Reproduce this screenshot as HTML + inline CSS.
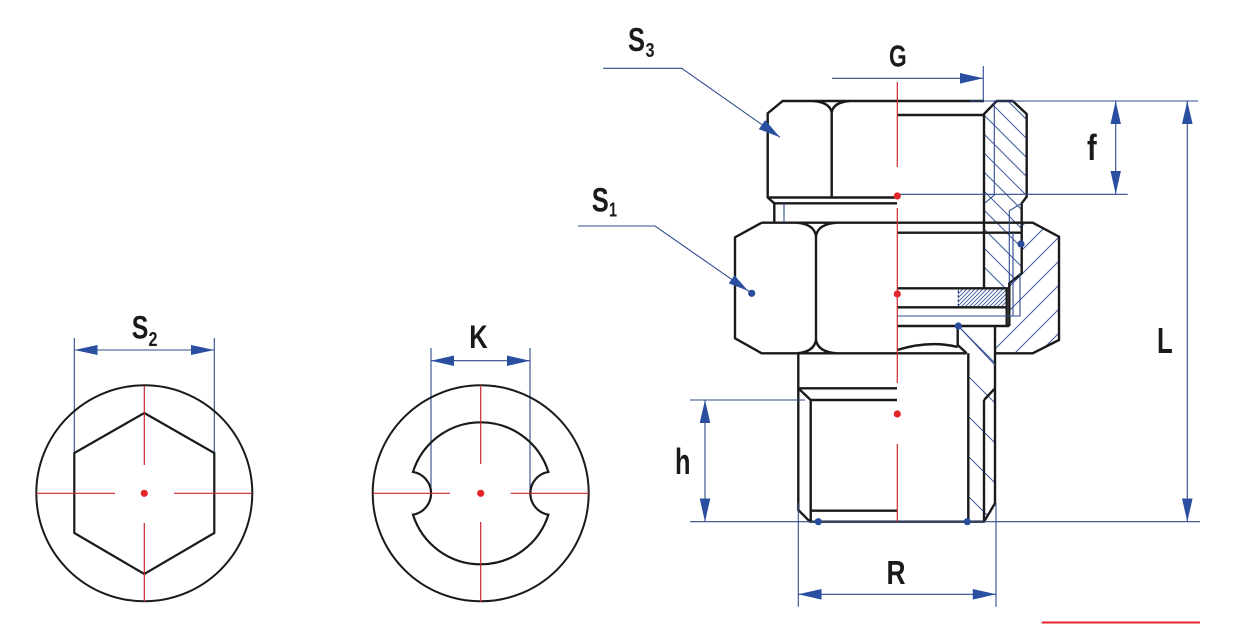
<!DOCTYPE html>
<html><head><meta charset="utf-8"><style>
html,body{margin:0;padding:0;background:#fff;}
svg{display:block;}
text{font-family:"Liberation Sans",sans-serif;font-weight:bold;fill:#1a1a1a;}
</style></head><body>
<svg width="1236" height="625" viewBox="0 0 1236 625" xmlns="http://www.w3.org/2000/svg">
<defs>
 <pattern id="hA" patternUnits="userSpaceOnUse" width="19" height="19" x="0" y="5">
   <path d="M-2,-2 L21,21 M-2,17 L2,21 M17,-2 L21,2" stroke="#3d5a9e" stroke-width="1"/>
 </pattern>
 <pattern id="hB" patternUnits="userSpaceOnUse" width="24" height="24">
   <path d="M-2,26 L26,-2 M-2,2 L2,-2 M22,26 L26,22" stroke="#3d5a9e" stroke-width="1"/>
 </pattern>
 <pattern id="hC" patternUnits="userSpaceOnUse" width="40" height="40" x="0" y="8">
   <path d="M-2,-2 L42,42 M-2,38 L2,42 M38,-2 L42,2" stroke="#3d5a9e" stroke-width="1"/>
 </pattern>
 <pattern id="hG" patternUnits="userSpaceOnUse" width="4" height="4">
   <path d="M-1,5 L5,-1 M-1,1 L1,-1 M3,5 L5,3" stroke="#3d5a9e" stroke-width="0.9"/>
 </pattern>
</defs>

<!-- hatched regions -->
<polygon points="984,114 996.7,101 1012.7,101 1026.7,114 1026.7,196.7 1021.7,203.3 1021.7,273.3 1009.3,283.3 1009.3,288.3 984,288.3" fill="url(#hA)"/>
<polygon points="1021.7,222.7 1032.7,222.7 1059,236.7 1059,340 1032.7,353.3 995,353.3 995,326 1009.3,326 1009.3,283.3 1021.7,273.3" fill="url(#hB)"/>
<polygon points="958.3,326 995,326 995,503.3 984,521.7 968.3,521.7 968.3,353.3 966.7,353.3 957.7,345" fill="url(#hC)"/>
<rect x="958.3" y="288.3" width="48.7" height="19" fill="url(#hG)" stroke="#2a3f7a" stroke-width="1.2" stroke-dasharray="3,1.5"/>

<!-- black outlines main drawing -->
<path d="
M984,101 L782.7,101 L767.7,113.3 L767.7,197.5 L774.3,203.3 L774.3,222.7
M767.7,197.5 L897,197.5
M774.3,203.3 L897,203.3
M831.7,112 L831.7,197.5
M813,101 Q829,102 831.7,112 Q834,102 850,101
M897,115 L984,115
M984,288.3 L984,114 L996.7,101 L1012.7,101 L1026.7,114 L1026.7,196.7 L1021.7,203.3 L1021.7,273.3 L1009.3,283.3 L1009.3,326
M761.7,222.7 L1032.7,222.7 L1059,236.7 L1059,340 L1032.7,353.3 L995,353.3
M966.7,353.3 L761.7,353.3 L735,338.3 L735,237.3 L761.7,222.7
M816,236 L816,340
M796.7,222.7 Q814,224 816,236 Q818,224 836.7,222.7
M796.7,353.3 Q814,352 816,340 Q818,352 836.7,353.3
M897,232.7 L1021.7,232.7
M897,288.3 L1009.3,288.3
M897,307.3 L1007,307.3
M897,326 L1009.3,326
M1006.7,288.3 L1006.7,326
M957.7,326 L957.7,345 L966.7,353.3
M897,350 Q930,340 957.7,347
M798.3,353.3 L798.3,510 L810,521.7 L984,521.7 L995,503.3 L995,326
M810.7,400 L810.7,521.7
M798.3,388.3 L810.7,400
M798.3,388.3 L897,388.3
M810.7,400 L897,400
M810.7,510.7 L897,510.7
M968.3,353.3 L968.3,521.7
M984,400 L984,521.7
M995,388.3 L984,400
" fill="none" stroke="#1a1a1a" stroke-width="2.4" stroke-linejoin="miter"/>

<!-- thin blue construction / dimension lines -->
<path d="
M784,203.3 L784,222.7
M994.3,101 L994.3,195 L985,203
M1009.3,210.7 L1021.7,203.3 M1009.3,210.7 L1009.3,283
M1013,232.7 L1013,316 M897,316 L1020,316 L1020,273
M958.3,326 L995,365
M603,68.3 L681.7,68.3 L780,137.3
M578,226 L655,226 L751.7,293.3
M832,78.3 L983.3,78.3 M983.3,66 L983.3,101
M970,101 L1198,101
M897,194.3 L1127.7,194.3
M1115.7,101 L1115.7,194.3
M1187.3,101 L1187.3,521.7
M690,521.7 L1200,521.7
M690,400 L805,400
M705,400 L705,521.7
M798.3,503 L798.3,606.7 M996,503 L996,606.7 M798.3,594.3 L996,594.3
M74.3,338 L74.3,453 M214.3,338 L214.3,453 M74.3,350 L214.3,350
M431,348 L431,493.3 M530,348 L530,493.3 M431,360.7 L530,360.7
" fill="none" stroke="#2f4b8c" stroke-width="1.1"/>

<!-- arrowheads -->
<g fill="#2a4fa0">
<polygon points="983.3,78.3 960,73 960,83.6"/>
<polygon points="1115.7,101 1110.5,124 1120.9,124"/>
<polygon points="1115.7,194.3 1110.5,171 1120.9,171"/>
<polygon points="1187.3,101 1182,124 1192.6,124"/>
<polygon points="1187.3,521.7 1182,498.5 1192.6,498.5"/>
<polygon points="705,400 699.7,423 710.3,423"/>
<polygon points="705,521.7 699.7,498.5 710.3,498.5"/>
<polygon points="798.3,594.3 821.5,589 821.5,599.6"/>
<polygon points="996,594.3 972.8,589 972.8,599.6"/>
<polygon points="74.3,350 97.5,345 97.5,355"/>
<polygon points="214.3,350 191,345 191,355"/>
<polygon points="431,360.7 454,355.5 454,366"/>
<polygon points="530,360.7 507,355.5 507,366"/>
<polygon points="780,137.3 758.8,129.2 765.2,120.1"/>
<polygon points="748,290.7 728.7,283.4 734.5,275.2"/>
</g>

<!-- red center lines main -->
<path d="M897.3,82 L897.3,167 M897.3,208 L897.3,383 M897.3,444 L897.3,521.7" stroke="#c8282d" stroke-width="1.2" fill="none"/>

<!-- left circle with hex -->
<circle cx="144.3" cy="493.3" r="108" fill="none" stroke="#1a1a1a" stroke-width="2"/>
<polygon points="144.3,413 214.3,453 214.3,533 144.3,574 74.3,533 74.3,453" fill="none" stroke="#1a1a1a" stroke-width="2.2"/>
<path d="M36,493.3 L115,493.3 M174,493.3 L252,493.3 M144.3,386 L144.3,465 M144.3,523 L144.3,602" stroke="#c8282d" stroke-width="1.2" fill="none"/>

<!-- K circle -->
<circle cx="480.7" cy="493.3" r="108" fill="none" stroke="#1a1a1a" stroke-width="2"/>
<path d="M413,471.9 A71,71 0 0 1 548.4,471.9 A21.7,21.7 0 0 0 548.4,514.7 A71,71 0 0 1 413,514.7 A21.7,21.7 0 0 0 413,471.9 Z" fill="none" stroke="#1a1a1a" stroke-width="2.2"/>
<path d="M372.7,493.3 L450,493.3 M510.7,493.3 L589,493.3 M480.7,385 L480.7,464 M480.7,522 L480.7,602" stroke="#c8282d" stroke-width="1.2" fill="none"/>

<!-- dots -->
<g fill="#e3262a">
<circle cx="897.3" cy="196" r="3.6"/>
<circle cx="897.3" cy="294" r="3.6"/>
<circle cx="897.3" cy="414" r="3.6"/>
<circle cx="144.3" cy="493.3" r="3.6"/>
<circle cx="480.7" cy="493.3" r="3.6"/>
</g>
<g fill="#2a4c9c">
<circle cx="751.7" cy="293.3" r="3.6"/>
<circle cx="1021" cy="244" r="3.6"/>
<circle cx="958.3" cy="326" r="3.6"/>
<circle cx="818.3" cy="521.7" r="3.6"/>
<circle cx="967.3" cy="521.7" r="3.6"/>
</g>

<!-- bottom red line -->
<path d="M1041.7,622.5 L1200,622.5" stroke="#e0262b" stroke-width="2"/>

<!-- labels -->
<text x="628" y="51" font-size="33" textLength="17" lengthAdjust="spacingAndGlyphs">S</text>
<text x="645.5" y="57" font-size="20" textLength="9" lengthAdjust="spacingAndGlyphs">3</text>
<text x="591.7" y="211.7" font-size="34" textLength="17" lengthAdjust="spacingAndGlyphs">S</text>
<text x="609" y="216.7" font-size="20" textLength="8" lengthAdjust="spacingAndGlyphs">1</text>
<text x="131.7" y="338.3" font-size="32" textLength="16.6" lengthAdjust="spacingAndGlyphs">S</text>
<text x="148.5" y="346" font-size="20" textLength="9" lengthAdjust="spacingAndGlyphs">2</text>
<text x="469.3" y="348" font-size="32" textLength="18.4" lengthAdjust="spacingAndGlyphs">K</text>
<text x="889" y="66.7" font-size="31" textLength="17.7" lengthAdjust="spacingAndGlyphs">G</text>
<text x="1087" y="160" font-size="36" textLength="9.7" lengthAdjust="spacingAndGlyphs">f</text>
<text x="1157" y="353" font-size="36" textLength="15.7" lengthAdjust="spacingAndGlyphs">L</text>
<text x="675" y="474" font-size="36" textLength="15.5" lengthAdjust="spacingAndGlyphs">h</text>
<text x="886.5" y="584" font-size="33" textLength="19" lengthAdjust="spacingAndGlyphs">R</text>
</svg>
</body></html>
